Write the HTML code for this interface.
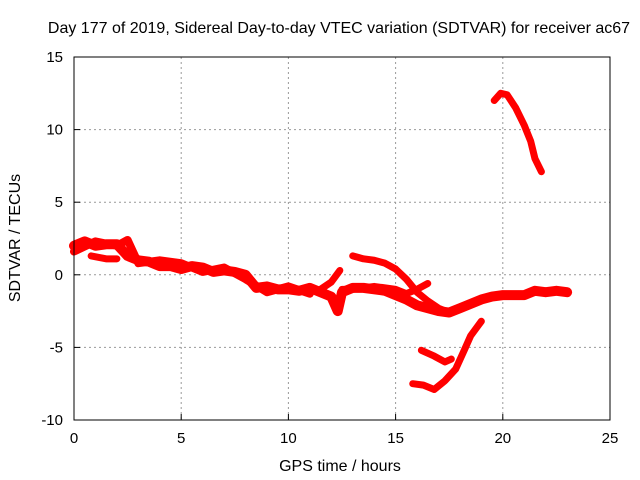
<!DOCTYPE html>
<html><head><meta charset="utf-8"><style>
body{margin:0;background:#fff}
svg{display:block;font-family:"Liberation Sans",sans-serif}
</style></head><body>
<svg id="c" width="640" height="480">
<rect width="640" height="480" fill="#fff"/>
<g id="grid"></g>
<g id="marks"></g>
<rect x="74" y="57" width="536" height="363" fill="none" stroke="#000" stroke-width="1"/>
<g id="ticks"></g>
<text x="339" y="33" text-anchor="middle" font-size="16">Day 177 of 2019, Sidereal Day-to-day VTEC variation (SDTVAR) for receiver ac67</text>
<text x="340" y="471" text-anchor="middle" font-size="16">GPS time / hours</text>
<text transform="translate(20,238) rotate(-90)" text-anchor="middle" font-size="16">SDTVAR / TECUs</text>
</svg>
<script>
const xTicks=[0,5,10,15,20,25];
const yTicks=[-10,-5,0,5,10,15];
const track1=[[0,2],[0.5,2.3],[1,2.0],[1.5,2.1],[2,2.1],[2.5,1.3],[3,1.0],[3.5,0.9],[4,0.6],[4.5,0.6],[5,0.4],[5.5,0.6],[6,0.5],[6.5,0.2],[7,0.3],[7.5,0.2],[8,0],[8.5,-0.9],[9,-0.8],[9.5,-1],[10,-1],[10.5,-1.1],[11,-0.9],[11.5,-1.2],[12,-1.5],[12.3,-2.5],[12.5,-1.2],[13,-0.9],[13.5,-0.9],[14,-1],[14.5,-1.1],[15,-1.4],[15.5,-1.7],[16,-2.1],[16.5,-2.3],[17,-2.5],[17.5,-2.6],[18,-2.3],[18.5,-2],[19,-1.7],[19.5,-1.5],[20,-1.4],[21,-1.4],[21.5,-1.1],[22,-1.2],[22.5,-1.1],[23,-1.2]];
const track2=[[0.8,1.3],[1.5,1.1],[2,1.1]];
const track3=[[11.5,-1],[12,-0.5],[12.4,0.3]];
const track4=[[12.5,-1],[13,-1],[14,-0.8],[15,-1.0],[15.5,-1.3],[16,-1.0],[16.5,-0.6]];
const track5=[[13,1.3],[13.5,1.1],[14,1.0],[14.5,0.8],[15,0.4],[15.5,-0.3],[16,-1.2],[16.5,-1.8],[17,-2.3],[17.5,-2.6]];
const track6=[[15.8,-7.5],[16.3,-7.6],[16.8,-7.9],[17.3,-7.3],[17.8,-6.5],[18.2,-5.2],[18.5,-4.2],[18.8,-3.6],[19,-3.2]];
const track7=[[16.2,-5.2],[16.8,-5.6],[17.3,-6.0],[17.6,-5.8]];
const track8=[[19.6,12],[19.9,12.5],[20.2,12.4],[20.6,11.5],[21,10.3],[21.3,9.2],[21.5,8.0],[21.8,7.1]];
const track9=[[0,1.6],[1,2.3],[2,2.0],[2.5,2.4],[3,0.8],[4,1.0],[5,0.8],[6,0.2],[7,0.5],[8,-0.3],[9,-1.2],[10,-0.8],[11,-1.3]];
const tracks=[track1,track2,track3,track4,track5,track6,track7,track8,track9];
const widths=[10,7,7,7,7,7,7,7,8];
const NS='http://www.w3.org/2000/svg';
const X=h=>74+h*536/25, Y=v=>420-(v+10)*363/25;
const grid=document.getElementById('grid'),ticks=document.getElementById('ticks'),marks=document.getElementById('marks');
function mk(t,a,p){const e=document.createElementNS(NS,t);for(const k in a)e.setAttribute(k,a[k]);p.appendChild(e);return e;}
xTicks.forEach(t=>{
 if(t>0&&t<25){const l=mk('line',{x1:X(t),x2:X(t),y1:57,y2:420,stroke:'#999','stroke-dasharray':'2,3'},grid);
 
 }
 const tk=mk('line',{x1:X(t),x2:X(t),y1:420,y2:414,stroke:'#000'},ticks);
 
 
 const tx=mk('text',{x:X(t),y:443,'text-anchor':'middle','font-size':15},ticks);tx.textContent=t;
 
 
});
yTicks.forEach(t=>{
 if(t>-10&&t<15){const l=mk('line',{x1:74,x2:610,y1:Y(t),y2:Y(t),stroke:'#999','stroke-dasharray':'2,3'},grid);
 
 }
 const tk=mk('line',{x1:74,x2:80,y1:Y(t),y2:Y(t),stroke:'#000'},ticks);
 
 
 const tx=mk('text',{x:63,y:Y(t)+5,'text-anchor':'end','font-size':15},ticks);tx.textContent=t;
 
 
});
tracks.forEach((tr,i)=>{
 const p=mk('polyline',{points:tr.map(d=>X(d[0])+','+Y(d[1])).join(' '),fill:'none',stroke:'#f00','stroke-width':widths[i],'stroke-linejoin':'round','stroke-linecap':'round'},marks);
 
 
});
</script>
</body></html>
